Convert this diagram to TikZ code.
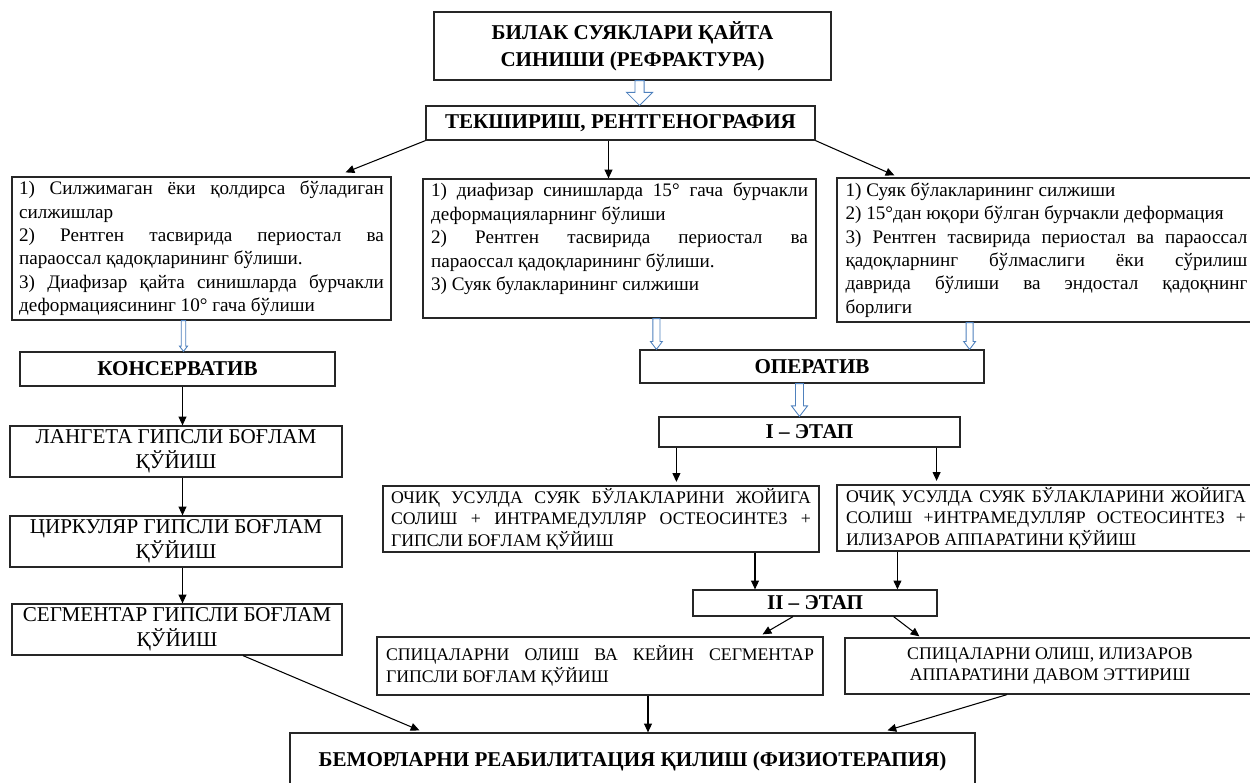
\documentclass[tikz,border=0pt]{standalone}
\usepackage{fontspec}
\setmainfont{Liberation Serif}
\usepackage{tikz}
\usetikzlibrary{arrows.meta,positioning,calc}
\definecolor{arrowblue}{RGB}{79,129,189}
\hyphenpenalty=10000
\tolerance=9999
\emergencystretch=1em
\newcommand{\hollowarr}[5]{%
  \draw[hollow] let \p1=#1, \p2=#2 in
    (\x2-#3,\y1) -- (\x2-#3,\y2+#5) -- (\x2-#4,\y2+#5) -- (\x2,\y2)
    -- (\x2+#4,\y2+#5) -- (\x2+#3,\y2+#5) -- (\x2+#3,\y1) -- cycle;}

\begin{document}
\begin{tikzpicture}[x=0.02cm,y=-0.02cm,
      box/.style={draw=black!85,line width=0.7pt,inner sep=0pt,align=center,font=\fontsize{12}{14.2}\selectfont},
      head/.style={box,font=\bfseries\fontsize{12}{15.4}\selectfont},
      cond/.style={box,align=justify,font=\fontsize{10.9}{13.3}\selectfont},
      opbox/.style={box,align=justify,font=\fontsize{10.1}{12.3}\selectfont},
      arr/.style={-{Triangle[length=5pt,width=4.5pt]},line width=0.6pt},
      hollow/.style={draw=arrowblue,line width=0.5pt,fill=white}]
    \useasboundingbox (0,0) rectangle (1250,783);

    \node[head,minimum width=7.94cm,minimum height=1.36cm] (title) at (632.5,46) {БИЛАК СУЯКЛАРИ ҚАЙТА\\ СИНИШИ (РЕФРАКТУРА)};
    \node[head,minimum width=7.78cm,minimum height=0.68cm] (teks) at (620.5,123) {ТЕКШИРИШ, РЕНТГЕНОГРАФИЯ};

    \node[cond,text width=7.3cm,minimum width=7.58cm,minimum height=2.86cm] (lcond) at (201.5,248.5)
      {1) Силжимаган ёки қолдирса бўладиган\linebreak силжишлар\par
       2) Рентген тасвирида периостал ва\linebreak параоссал қадоқларининг бўлиши.\par
       3) Диафизар қайта синишларда бурчакли\linebreak деформациясининг 10° гача бўлиши};
    \node[cond,text width=7.54cm,minimum width=7.86cm,minimum height=2.78cm] (mcond) at (619.5,248.5)
      {1) диафизар синишларда 15° гача бурчакли\linebreak деформацияларнинг бўлиши\par
       2) Рентген тасвирида периостал ва\linebreak параоссал қадоқларининг бўлиши.\par
       3) Суяк булакларининг силжиши\par\mbox{}};
    \node[cond,text width=8.04cm,minimum width=8.38cm,minimum height=2.88cm] (rcond) at (1046.5,250)
      {1) Суяк бўлакларининг силжиши\par
       2) 15°дан юқори бўлган бурчакли деформация\par
       3) Рентген тасвирида периостал ва параоссал\linebreak қадоқларнинг бўлмаслиги ёки сўрилиш\linebreak
       даврида бўлиши ва эндостал қадоқнинг\linebreak борлиги};

    \node[head,minimum width=6.3cm,minimum height=0.68cm] (cons) at (177.5,369) {КОНСЕРВАТИВ};
    \node[box,minimum width=6.64cm,minimum height=1.02cm] (lang) at (176,451.5) {ЛАНГЕТА ГИПСЛИ БОҒЛАМ\\ ҚЎЙИШ};
    \node[box,minimum width=6.64cm,minimum height=1.02cm] (circ) at (176,541.5) {ЦИРКУЛЯР ГИПСЛИ БОҒЛАМ\\ ҚЎЙИШ};
    \node[box,minimum width=6.6cm,minimum height=1.02cm] (segm) at (177,629.5) {СЕГМЕНТАР ГИПСЛИ БОҒЛАМ\\ ҚЎЙИШ};

    \node[head,minimum width=6.88cm,minimum height=0.66cm] (oper) at (812,366.5) {ОПЕРАТИВ};
    \node[head,minimum width=6.02cm,minimum height=0.6cm] (etap1) at (809.5,432) {I – ЭТАП};
    \node[opbox,text width=8.4cm,minimum width=8.72cm,minimum height=1.32cm] (open1) at (601,519)
      {ОЧИҚ УСУЛДА СУЯК БЎЛАКЛАРИНИ ЖОЙИГА\linebreak СОЛИШ + ИНТРАМЕДУЛЛЯР ОСТЕОСИНТЕЗ +\linebreak ГИПСЛИ БОҒЛАМ ҚЎЙИШ};
    \node[opbox,text width=8.0cm,minimum width=8.36cm,minimum height=1.32cm] (open2) at (1046,518)
      {ОЧИҚ УСУЛДА СУЯК БЎЛАКЛАРИНИ ЖОЙИГА\linebreak СОЛИШ +ИНТРАМЕДУЛЛЯР ОСТЕОСИНТЕЗ +\linebreak ИЛИЗАРОВ АППАРАТИНИ ҚЎЙИШ};
    \node[head,minimum width=4.88cm,minimum height=0.52cm,inner ysep=1pt] (etap2) at (815,603) {II – ЭТАП};
    \node[opbox,text width=8.56cm,minimum width=8.92cm,minimum height=1.16cm] (spic1) at (600,666)
      {СПИЦАЛАРНИ ОЛИШ ВА КЕЙИН СЕГМЕНТАР\linebreak ГИПСЛИ БОҒЛАМ ҚЎЙИШ};
    \node[box,font=\fontsize{10.1}{12.3}\selectfont,minimum width=8.2cm,minimum height=1.12cm] (spic2) at (1050,666)
      {СПИЦАЛАРНИ ОЛИШ, ИЛИЗАРОВ\\ АППАРАТИНИ ДАВОМ ЭТТИРИШ};
    \node[head,minimum width=13.7cm,minimum height=1.14cm] (rehab) at (632.5,761.5)
      {БЕМОРЛАРНИ РЕАБИЛИТАЦИЯ ҚИЛИШ (ФИЗИОТЕРАПИЯ)};

    \hollowarr{(title.south)}{($(teks.north)+(19,0)$)}{2.6pt}{7.4pt}{7.4pt}
    \hollowarr{(lcond.south)}{($(cons.north)+(6,0)$)}{1.3pt}{2.3pt}{3pt}
    \hollowarr{(mcond.south)}{($(oper.north west)+(17,0)$)}{2pt}{3.4pt}{4.5pt}
    \hollowarr{(rcond.south)}{($(oper.north east)+(-15,0)$)}{2pt}{3.4pt}{4.5pt}
    \hollowarr{(oper.south)}{($(etap1.north)+(-10,0)$)}{2.3pt}{4.6pt}{6pt}

    \coordinate (t1) at ($(teks.south)+(-12,0)$);
    \draw[arr] (teks.south west) -- ($(lcond.north east)+(-46,-4)$);
    \draw[arr] (t1) -- (t1 |- mcond.north);
    \draw[arr] (teks.south east) -- ($(rcond.north west)+(58,-2)$);

    \coordinate (c1) at ($(cons.south)+(5,0)$);
    \draw[arr] (c1) -- (c1 |- lang.north);
    \draw[arr] (c1 |- lang.south) -- (c1 |- circ.north);
    \draw[arr] (c1 |- circ.south) -- (c1 |- segm.north);

    \coordinate (e1) at ($(etap1.south west)+(18,0)$);
    \coordinate (e2) at ($(etap1.south east)+(-24,0)$);
    \draw[arr,shorten >=2pt] (e1) -- (e1 |- open1.north);
    \draw[arr,shorten >=2pt] (e2) -- (e2 |- open2.north);
    \coordinate (o1) at ($(open1.south)+(154,0)$);
    \coordinate (o2) at ($(open2.south west)+(61,0)$);
    \draw[arr] (o1) -- (o1 |- etap2.north);
    \draw[arr] (o2) -- (o2 |- etap2.north);
    \draw[arr] ($(etap2.south)+(-22,0)$) -- ($(spic1.north east)+(-61,-2)$);
    \draw[arr] ($(etap2.south east)+(-44,0)$) -- ($(spic2.north west)+(75,-1)$);

    \coordinate (s1) at ($(spic1.south)+(48,0)$);
    \draw[arr] ($(segm.south)+(66,0)$) -- ($(rehab.north west)+(130,-2)$);
    \draw[arr] (s1) -- (s1 |- rehab.north);
    \draw[arr] ($(spic2.south)+(-43,0)$) -- ($(rehab.north west)+(598,-2)$);
  \end{tikzpicture}
\end{document}
